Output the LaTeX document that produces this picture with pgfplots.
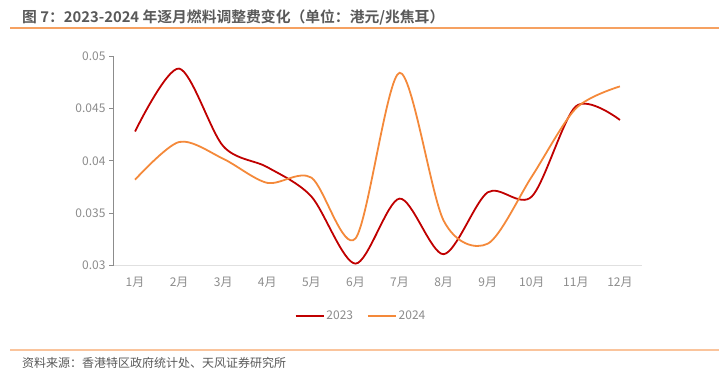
\documentclass[border=0pt]{standalone}
\usepackage{fontspec}
\setmainfont{Noto Sans CJK SC}[BoldFont={Noto Sans CJK SC Bold}]
\usepackage{pgfplots}
\pgfplotsset{compat=1.18}
\definecolor{cred}{HTML}{C00000}
\definecolor{corange}{HTML}{F4893A}
\definecolor{tickgray}{HTML}{8C8C8C}
\definecolor{titlegray}{HTML}{595959}
\begin{document}
\begin{tikzpicture}
\path[use as bounding box] (0,0) rectangle (719pt,376pt);
\node[anchor=west,font=\bfseries\fontsize{14.8pt}{16pt}\selectfont,text=titlegray,inner sep=0pt] at (22pt,359pt) {图 7：2023-2024 年逐月燃料调整费变化（单位：港元/兆焦耳）};
\draw[color=corange!80,line width=1.2pt] (10pt,348pt) -- (719pt,348pt);
\draw[color=corange!50,line width=1.2pt] (10pt,26pt) -- (719pt,26pt);
\node[anchor=west,font=\fontsize{12pt}{14pt}\selectfont,text=titlegray,inner sep=0pt] at (22pt,13pt) {资料来源：香港特区政府统计处、天风证券研究所};
\begin{axis}[
  at={(113pt,110.3pt)}, anchor=south west,
  scale only axis, width=529pt, height=209.7pt,
  xmin=-0.5, xmax=11.5, ymin=0.03, ymax=0.05,
  xtick={0,...,11},
  xticklabels={1月,2月,3月,4月,5月,6月,7月,8月,9月,10月,11月,12月},
  ytick={0.03,0.035,0.04,0.045,0.05},
  yticklabels={0.03,0.035,0.04,0.045,0.05},
  scaled y ticks=false,
  axis x line*=bottom, axis y line*=left,
  x axis line style={draw=black!12,line width=0.8pt,-},
  y axis line style={draw=black!45,line width=0.8pt,-},
  xtick style={draw=none},
  ytick style={draw=black!45,line width=0.8pt},
  tick align=outside, major tick length=4pt,
  ticklabel style={font=\fontsize{12pt}{14pt}\selectfont,text=tickgray},
  xticklabel style={yshift=-4pt},
  legend style={at={(0.469,-0.24)},anchor=center,draw=none,legend columns=2,
    font=\fontsize{12pt}{14pt}\selectfont,text=tickgray,
    /tikz/every even column/.append style={column sep=12pt}},
  legend image code/.code={\draw[#1,line width=1.6pt] (0pt,0pt) -- (28pt,0pt);},
]
\addplot[cred,line width=1.8pt,smooth,tension=0.5] coordinates {
(0,0.0428) (1,0.0488) (2,0.0414) (3,0.0394) (4,0.0366) (5,0.0302)
(6,0.0364) (7,0.0311) (8,0.0370) (9,0.0366) (10,0.0452) (11,0.0439)};
\addlegendentry{2023}
\addplot[corange,line width=1.8pt,smooth,tension=0.5] coordinates {
(0,0.0382) (1,0.0418) (2,0.0402) (3,0.0379) (4,0.0384) (5,0.0326)
(6,0.0484) (7,0.0343) (8,0.0321) (9,0.0385) (10,0.0450) (11,0.0471)};
\addlegendentry{2024}
\end{axis}
\end{tikzpicture}
\end{document}
